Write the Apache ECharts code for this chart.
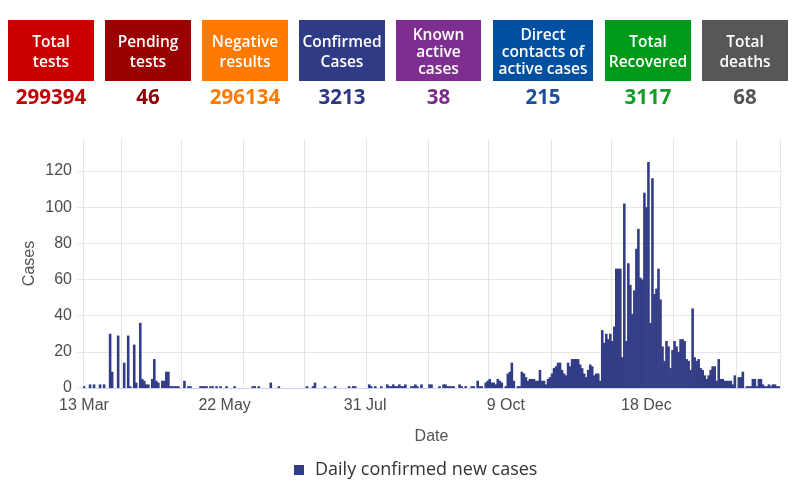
<!DOCTYPE html>
<html>
<head>
<meta charset="utf-8">
<script src="https://cdn.jsdelivr.net/npm/echarts@6/dist/echarts.min.js"></script>
<style>
  html, body { margin: 0; padding: 0; background: #fff; }
  #chart { width: 800px; height: 488px; }
</style>
</head>
<body>
<div id="chart"></div>
<script>
// summary boxes above the chart
var cardLabels = ['Total\ntests', 'Pending\ntests', 'Negative\nresults', 'Confirmed\nCases',
  'Known\nactive\ncases', 'Direct\ncontacts of\nactive cases', 'Total\nRecovered', 'Total\ndeaths']
var cardValues = [299394, 46, 296134, 3213, 38, 215, 3117, 68]
var cardColors = ['#c80000', '#990000', '#ff7a00', '#303b86', '#7e2e8e', '#0050a2', '#009a1a', '#575757']
var valueColors = ['#c00000', '#8e0000', '#ff7a00', '#2e3784', '#7a2b8b', '#1d4f9e', '#139c26', '#555555']

// daily confirmed new cases, one value per day starting 13 Mar
var startDate = '2020-03-13'
var dailyCases = [
  1, 0, 0, 2, 0, 2, 0, 0, 2, 0,
  2, 0, 0, 30, 9, 0, 0, 29, 0, 0,
  14, 0, 29, 1, 0, 24, 3, 0, 36, 5,
  4, 2, 2, 0, 5, 16, 4, 3, 0, 4,
  4, 9, 9, 1, 1, 1, 1, 1, 0, 0,
  4, 0, 1, 1, 0, 0, 0, 0, 1, 1,
  1, 1, 0, 1, 1, 0, 1, 0, 1, 0,
  0, 1, 0, 0, 0, 1, 0, 0, 0, 0,
  0, 0, 0, 0, 1, 1, 0, 1, 0, 0,
  0, 0, 0, 3, 0, 0, 0, 1, 0, 0,
  0, 0, 0, 0, 0, 0, 0, 0, 0, 0,
  0, 1, 0, 0, 1, 3, 0, 0, 0, 0,
  1, 0, 0, 0, 0, 1, 0, 0, 0, 0,
  0, 0, 1, 0, 1, 1, 0, 0, 0, 0,
  0, 0, 2, 1, 0, 1, 0, 0, 1, 0,
  0, 2, 1, 1, 2, 1, 1, 2, 1, 1,
  2, 0, 0, 1, 1, 2, 1, 0, 2, 0,
  0, 0, 2, 2, 0, 0, 0, 1, 0, 2,
  2, 1, 1, 1, 1, 0, 0, 2, 1, 0,
  1, 0, 0, 1, 1, 0, 4, 1, 1, 0,
  3, 4, 5, 3, 3, 2, 5, 4, 3, 0,
  1, 8, 9, 14, 4, 0, 1, 1, 9, 8,
  6, 4, 5, 5, 5, 4, 4, 10, 4, 4,
  2, 5, 6, 8, 11, 12, 14, 14, 10, 8,
  7, 14, 12, 16, 16, 16, 16, 13, 11, 8,
  6, 10, 13, 12, 7, 8, 8, 4, 32, 25,
  30, 27, 30, 26, 34, 66, 66, 66, 17, 102,
  26, 69, 57, 41, 54, 77, 88, 61, 60, 108,
  100, 125, 36, 116, 52, 55, 66, 49, 23, 15,
  26, 23, 11, 21, 26, 23, 20, 27, 27, 26,
  16, 15, 10, 44, 17, 15, 16, 11, 10, 7,
  5, 7, 10, 12, 12, 4, 16, 5, 5, 4,
  4, 4, 4, 2, 7, 0, 6, 6, 9, 0,
  1, 1, 1, 5, 5, 1, 5, 5, 2, 1,
  1, 2, 1, 2, 2, 1, 1
]
var xTickLabels = ['13 Mar', '22 May', '31 Jul', '9 Oct', '18 Dec']

var months = ['Jan', 'Feb', 'Mar', 'Apr', 'May', 'Jun', 'Jul', 'Aug', 'Sep', 'Oct', 'Nov', 'Dec']

// one category per day
var dates = []
var t0 = new Date(startDate + 'T00:00:00Z').getTime()
for (var i = 0; i < dailyCases.length; i++) {
  dates.push(new Date(t0 + i * 86400000).toISOString().slice(0, 10))
}
function shortDate(iso) {
  return parseInt(iso.slice(8, 10), 10) + ' ' + months[parseInt(iso.slice(5, 7), 10) - 1]
}

// header boxes
var cardX = [8, 105, 202, 299, 396, 493, 605, 702]
var cardW = [86, 86, 86, 86, 85, 100, 86, 86]
var graphics = []
cardLabels.forEach(function(label, i) {
  var cx = cardX[i] + cardW[i] / 2
  var lines = label.split('\n').length
  graphics.push({
    type: 'rect',
    shape: { x: cardX[i], y: 20, width: cardW[i], height: 61 },
    style: { fill: cardColors[i] }
  })
  graphics.push({
    type: 'text',
    style: {
      text: label, x: cx, y: 52.5, align: 'center', verticalAlign: 'middle',
      fill: '#fff', fontFamily: 'Open Sans', fontWeight: 600, fontSize: 15.5,
      lineHeight: lines > 2 ? 17 : 20
    }
  })
  graphics.push({
    type: 'text',
    style: {
      text: String(cardValues[i]), x: cx, y: 98, align: 'center', verticalAlign: 'middle',
      fill: valueColors[i], fontFamily: 'Open Sans', fontWeight: 700, fontSize: 20.5
    }
  })
})

var chart = echarts.init(document.getElementById('chart'))
chart.setOption({
  animation: false,
  textStyle: { fontFamily: 'Liberation Sans, Arial, sans-serif' },
  graphic: graphics,
  grid: { left: 83, right: 20, top: 139, bottom: 100 },
  legend: {
    left: 289, top: 456,
    icon: 'rect', itemWidth: 10, itemHeight: 10,
    textStyle: { fontFamily: 'Open Sans', fontSize: 18, color: '#333', padding: [0, 0, 0, 6] },
    data: ['Daily confirmed new cases']
  },
  xAxis: {
    type: 'category',
    data: dates,
    name: 'Date',
    nameLocation: 'middle',
    nameGap: 41,
    nameTextStyle: { fontSize: 16, color: '#555' },
    axisLine: { lineStyle: { color: '#ccd6eb' } },
    axisTick: { interval: 0, length: 7, lineStyle: { color: '#ccd6eb' } },
    axisLabel: {
      interval: function(idx, val) { return xTickLabels.indexOf(shortDate(val)) >= 0 },
      formatter: shortDate,
      fontSize: 16, color: '#4d4d4d', margin: 10
    },
    splitLine: {
      show: true,
      interval: function(idx, val) { return val.slice(8, 10) === '01' },
      lineStyle: { color: '#e6e6e6' }
    }
  },
  yAxis: {
    type: 'value',
    min: 0, max: 137.7, interval: 20,
    name: 'Cases',
    nameLocation: 'middle',
    nameGap: 45,
    nameMoveOverlap: false,
    nameTextStyle: { fontSize: 16, color: '#555' },
    axisLine: { show: true, lineStyle: { color: '#e6e6e6' } },
    axisTick: { show: true, length: 6, lineStyle: { color: '#e6e6e6' } },
    axisLabel: { fontSize: 16, color: '#4d4d4d', margin: 11, showMaxLabel: false },
    splitLine: { show: true, showMaxLine: false, lineStyle: { color: '#e6e6e6' } }
  },
  series: [{
    name: 'Daily confirmed new cases',
    type: 'bar',
    data: dailyCases,
    barWidth: 2.6,
    itemStyle: { color: '#333c87' }
  }]
})
</script>
</body>
</html>
